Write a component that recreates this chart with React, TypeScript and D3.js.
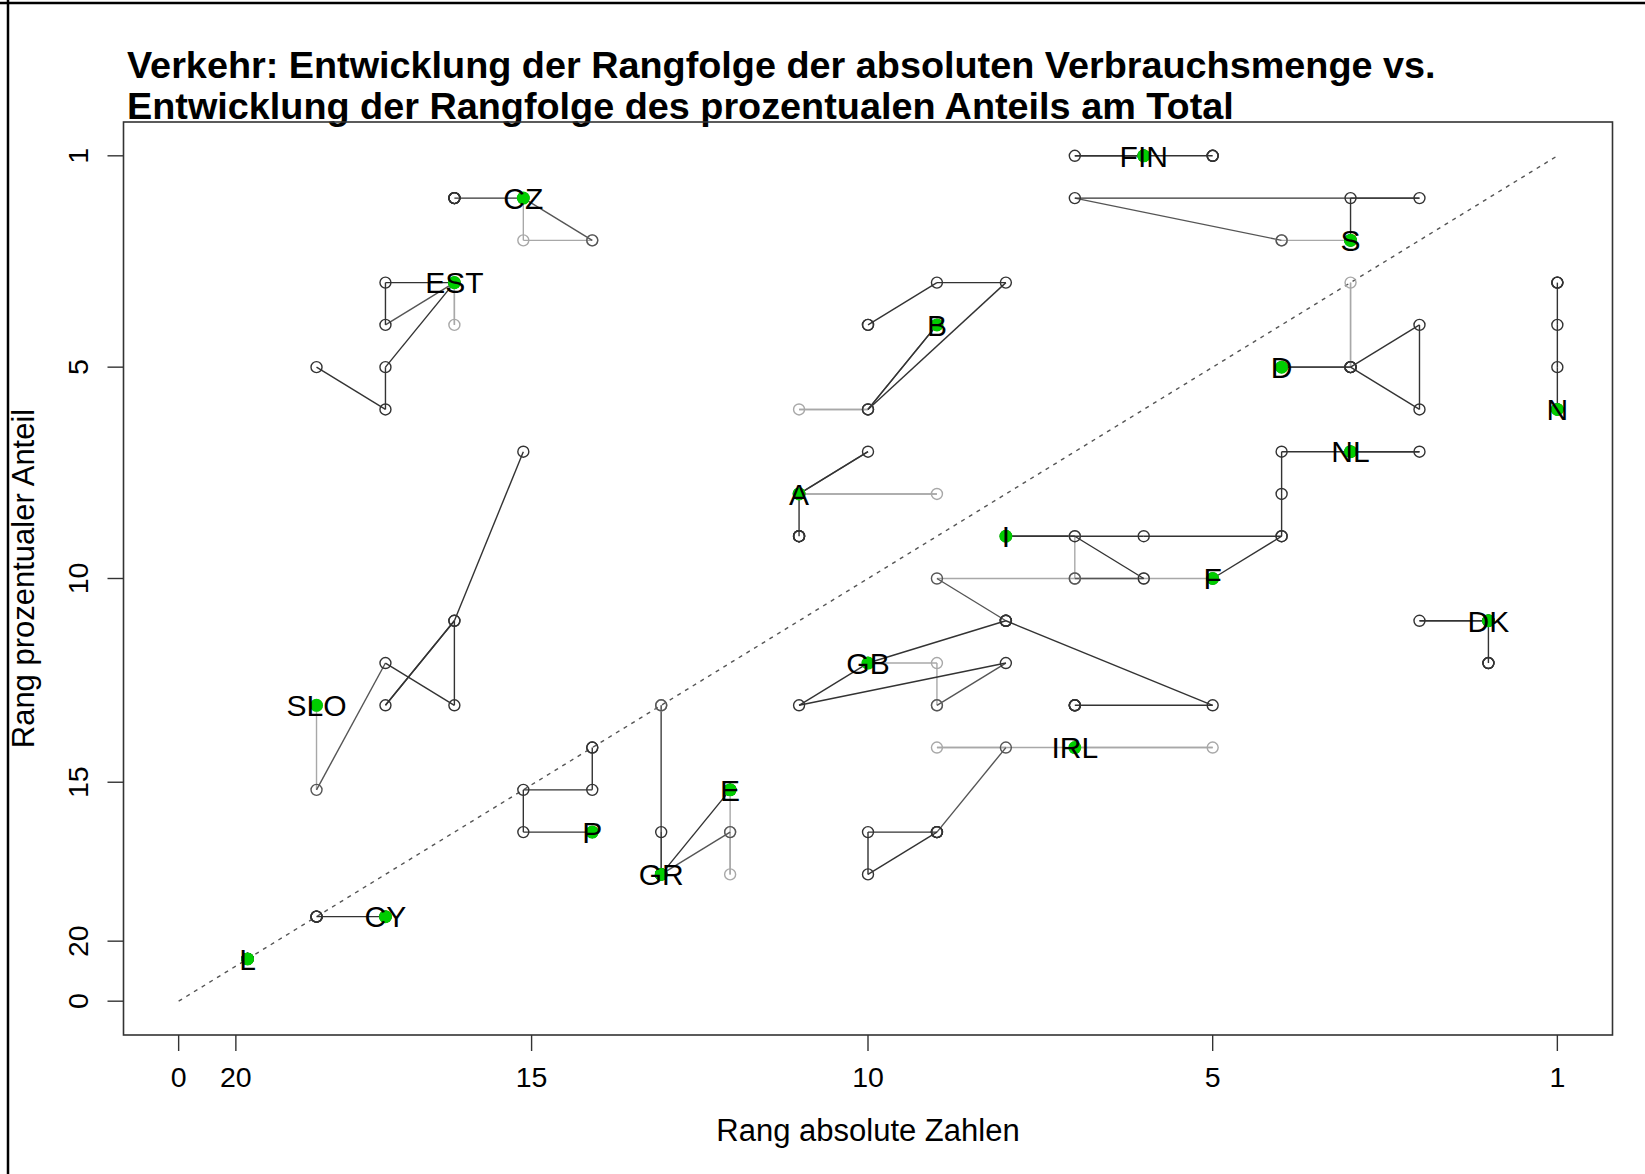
import * as d3 from "d3";
import React from "react";

// Länder, Reihenfolge wie im Original; erster Eintrag je Reihe = grün markierter Punkt
const laender = ["FIN", "CZ", "S", "EST", "B", "D", "N", "NL", "A", "I", "F", "DK", "GB", "SLO", "IRL", "E", "P", "GR", "CY", "L"];

// Rang absolute Zahlen, je Jahr
const rangAbsolut = [
  [7, 7, 7, 7, 7, 8, 7, 6, 6, 6],
  [16, 16, 15, 15, 16, 17, 17, 17, 17, 17],
  [4, 5, 5, 5, 8, 3, 4, 4, 4, 4],
  [17, 17, 17, 17, 18, 18, 17, 18, 18, 19],
  [10, 11, 12, 11, 10, 11, 9, 10, 11, 11],
  [5, 4, 4, 4, 5, 4, 3, 3, 4, 4],
  [1, 1, 1, 1, 1, 1, 1, 1, 1, 1],
  [4, 4, 4, 4, 4, 3, 4, 5, 5, 5],
  [12, 10, 12, 12, 11, 12, 12, 12, 12, 12],
  [9, 8, 8, 8, 7, 8, 9, 7, 5, 6],
  [6, 7, 8, 10, 9, 6, 8, 8, 8, 8],
  [2, 2, 2, 2, 2, 3, 2, 2, 2, 2],
  [11, 10, 10, 10, 9, 12, 11, 9, 9, 9],
  [19, 19, 19, 19, 18, 17, 17, 18, 17, 16],
  [8, 6, 10, 9, 10, 11, 11, 10, 10, 10],
  [13, 13, 13, 13, 14, 13, 13, 13, 13, 13],
  [15, 15, 15, 15, 15, 16, 16, 15, 15, 15],
  [14, 14, 14, 14, 14, 14, 14, 14, 14, 14],
  [18, 18, 18, 18, 18, 19, 19, 19, 19, 19],
  [20, 20, 20, 20, 20, 20, 20, 20, 20, 20],
];

// Rang prozentualer Anteil, je Jahr
const rangProzent = [
  [1, 1, 1, 1, 1, 1, 1, 1, 1, 1],
  [2, 3, 3, 3, 2, 2, 2, 2, 2, 2],
  [3, 3, 3, 3, 2, 2, 2, 3, 3, 3],
  [4, 5, 4, 4, 5, 4, 4, 6, 7, 6],
  [5, 7, 7, 7, 5, 7, 4, 4, 5, 5],
  [6, 6, 4, 6, 6, 6, 5, 7, 6, 6],
  [7, 7, 7, 7, 7, 6, 5, 4, 4, 4],
  [8, 8, 8, 8, 8, 8, 8, 8, 9, 10],
  [9, 9, 9, 9, 8, 9, 10, 10, 10, 10],
  [10, 10, 11, 11, 11, 10, 10, 10, 10, 11],
  [11, 11, 11, 11, 12, 14, 14, 14, 14, 14],
  [12, 12, 12, 12, 12, 12, 12, 13, 13, 13],
  [13, 13, 14, 14, 13, 14, 13, 12, 12, 12],
  [14, 14, 14, 16, 13, 14, 12, 14, 12, 8],
  [15, 15, 15, 15, 17, 18, 17, 17, 17, 17],
  [16, 18, 17, 17, 18, 16, 16, 16, 16, 16],
  [17, 17, 17, 17, 17, 17, 16, 16, 15, 15],
  [18, 14, 14, 14, 17, 18, 18, 18, 18, 18],
  [19, 19, 19, 19, 19, 19, 19, 19, 19, 19],
  [20, 20, 20, 20, 20, 20, 20, 20, 20, 20],
];

// Achsenbeschriftung (Positionen wie im Original gesetzt)
const xTickPos = [0, 0.83, 5.12, 10, 15, 20];
const yTickPos = [0, 1.42, 5.18, 10, 15, 20];
const tickLabels = ["0", "20", "15", "10", "5", "1"];

const W = 1645;
const H = 1174;
const font = "'Liberation Sans', Arial, sans-serif";

export default function App() {
  const x = d3.scaleLinear().domain([-0.8, 20.8]).range([123.5, 1612.5]);
  const y = d3.scaleLinear().domain([-0.8, 20.8]).range([1035, 122]);
  const pos = (r: number) => 21 - r;
  // Farbe je Jahr: frühe Jahre hellgrau, spätere dunkel
  const shade = d3.scaleThreshold<number, string>().domain([3, 4]).range(["#a8a8a8", "#555555", "#333333"]);

  const nJahre = rangAbsolut[0].length;
  const segs: any[] = [];
  for (let s = 0; s < nJahre - 1; s++) {
    laender.forEach((l, i) => {
      const x0 = rangAbsolut[i][s], y0 = rangProzent[i][s];
      const x1 = rangAbsolut[i][s + 1], y1 = rangProzent[i][s + 1];
      if (x0 === x1 && y0 === y1) return;
      segs.push(
        <line key={`s${s}-${l}`} x1={x(pos(x0))} y1={y(pos(y0))} x2={x(pos(x1))} y2={y(pos(y1))}
          stroke={shade(s)} strokeWidth={1.4} />
      );
    });
  }
  const pts: any[] = [];
  for (let j = 0; j < nJahre; j++) {
    laender.forEach((l, i) => {
      pts.push(
        <circle key={`p${j}-${l}`} cx={x(pos(rangAbsolut[i][j]))} cy={y(pos(rangProzent[i][j]))} r={5.5}
          fill="none" stroke={shade(j)} strokeWidth={1.4} />
      );
    });
  }

  const left = x.range()[0], right = x.range()[1];
  const top = y.range()[1], bottom = y.range()[0];

  return (
    <svg width={W} height={H} style={{ position: "absolute", left: 0, top: 0, display: "block", background: "#fff" }}
      fontFamily={font}>
      <rect x={0} y={0} width={W} height={H} fill="#fff" />
      <line x1={0} x2={W} y1={3} y2={3} stroke="#000" strokeWidth={2.5} />
      <line x1={8} x2={8} y1={0} y2={H} stroke="#000" strokeWidth={2.5} />

      <text x={127} y={78} fontSize={37.8} fontWeight="bold">Verkehr: Entwicklung der Rangfolge der absoluten Verbrauchsmenge vs.</text>
      <text x={127} y={119} fontSize={37.8} fontWeight="bold">Entwicklung der Rangfolge des prozentualen Anteils am Total</text>

      <line x1={x(0)} y1={y(0)} x2={x(20)} y2={y(20)} stroke="#555" strokeWidth={1.4} strokeDasharray="4,5" />

      {segs}
      {pts}

      {laender.map((l, i) => (
        <circle key={`g-${l}`} cx={x(pos(rangAbsolut[i][0]))} cy={y(pos(rangProzent[i][0]))} r={6.5} fill="#00cd00" />
      ))}
      {laender.map((l, i) => (
        <text key={`t-${l}`} x={x(pos(rangAbsolut[i][0]))} y={y(pos(rangProzent[i][0]))} dy="0.36em"
          textAnchor="middle" fontSize={30} fill="#000">{l}</text>
      ))}

      <rect x={left} y={top} width={right - left} height={bottom - top} fill="none" stroke="#333" strokeWidth={1.6} />

      {xTickPos.map((t, i) => (
        <g key={`xt${i}`}>
          <line x1={x(t)} x2={x(t)} y1={bottom} y2={bottom + 16} stroke="#333" strokeWidth={1.4} />
          <text x={x(t)} y={1087} textAnchor="middle" fontSize={28.5}>{tickLabels[i]}</text>
        </g>
      ))}
      {yTickPos.map((t, i) => (
        <g key={`yt${i}`}>
          <line x1={left} x2={left - 16} y1={y(t)} y2={y(t)} stroke="#333" strokeWidth={1.4} />
          <text transform={`translate(88,${y(t)}) rotate(-90)`} textAnchor="middle" fontSize={28.5}>{tickLabels[i]}</text>
        </g>
      ))}

      <text x={(left + right) / 2} y={1141} textAnchor="middle" fontSize={31}>Rang absolute Zahlen</text>
      <text transform={`translate(34,${(top + bottom) / 2}) rotate(-90)`} textAnchor="middle" fontSize={31}>Rang prozentualer Anteil</text>
    </svg>
  );
}
